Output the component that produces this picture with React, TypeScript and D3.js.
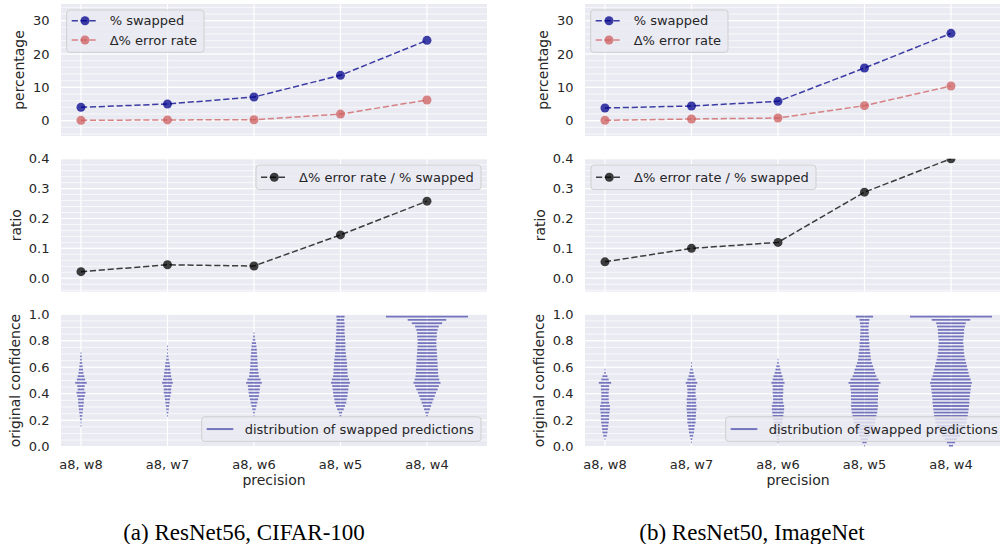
import React from 'react';
import * as d3 from 'd3';

// precision settings on the x axis
const categories = ['a8, w8', 'a8, w7', 'a8, w6', 'a8, w5', 'a8, w4'];

// (a) ResNet56, CIFAR-100
const cifarSwapped = [4.0, 5.0, 7.1, 13.6, 24.1];
const cifarErrorDelta = [0.09, 0.22, 0.29, 1.97, 6.2];
const cifarRatio = [0.022, 0.045, 0.041, 0.145, 0.258];

// (b) ResNet50, ImageNet
const imagenetSwapped = [3.8, 4.4, 5.8, 15.8, 26.2];
const imagenetErrorDelta = [0.1, 0.5, 0.8, 4.5, 10.4];
const imagenetRatio = [0.055, 0.1, 0.12, 0.288, 0.4];

const percentTicks = [0, 10, 20, 30];
const ratioTicks = [0, 0.1, 0.2, 0.3, 0.4];
const confTicks = [0, 0.2, 0.4, 0.6, 0.8, 1.0];

// histogram of original confidence of swapped predictions, 40 bins over [0, 1]
const binCount = 40;
const cifarHist = [
  [0, 0, 0, 0, 0, 0, 1, 1, 2, 3, 4, 5, 6, 7, 7, 9, 11, 8, 9, 14, 10, 8, 6, 5, 4, 3, 2, 2, 1, 0, 0, 0, 0, 0, 0, 0, 0, 0, 0, 0],
  [0, 0, 0, 0, 0, 0, 0, 0, 0, 1, 2, 3, 4, 5, 6, 7, 9, 9, 10, 13, 11, 9, 8, 7, 6, 5, 3, 2, 1, 1, 1, 0, 0, 0, 0, 0, 0, 0, 0, 0],
  [0, 0, 0, 0, 0, 0, 0, 0, 0, 1, 2, 4, 6, 8, 10, 12, 13, 14, 15, 19, 16, 12, 11, 10, 9, 9, 8, 8, 7, 7, 6, 5, 3, 2, 1, 0, 0, 0, 0, 0],
  [0, 0, 0, 0, 0, 0, 0, 0, 0, 2, 4, 8, 11, 14, 15, 17, 18, 19, 20, 23, 21, 18, 17, 17, 16, 16, 15, 14, 13, 12, 12, 12, 11, 11, 10, 10, 10, 10, 9, 10],
  [0, 0, 0, 0, 0, 0, 0, 0, 0, 2, 4, 7, 10, 13, 16, 19, 22, 26, 29, 33, 30, 28, 27, 27, 26, 26, 25, 25, 24, 24, 23, 23, 23, 24, 24, 26, 29, 37, 47, 100],
];
const imagenetHist = [
  [0, 0, 1, 4, 6, 7, 8, 9, 10, 10, 11, 12, 12, 10, 9, 9, 9, 10, 10, 15, 9, 6, 2, 1, 0, 0, 0, 0, 0, 0, 0, 0, 0, 0, 0, 0, 0, 0, 0, 0],
  [0, 1, 2, 4, 6, 7, 8, 10, 10, 11, 11, 12, 12, 11, 12, 10, 10, 10, 11, 14, 10, 7, 5, 3, 1, 1, 0, 0, 0, 0, 0, 0, 0, 0, 0, 0, 0, 0, 0, 0],
  [0, 1, 2, 4, 6, 8, 9, 10, 12, 13, 14, 15, 15, 13, 12, 12, 13, 13, 13, 16, 13, 11, 8, 6, 4, 2, 1, 0, 0, 0, 0, 0, 0, 0, 0, 0, 0, 0, 0, 0],
  [1, 5, 9, 13, 17, 21, 24, 26, 27, 29, 31, 32, 33, 32, 33, 33, 33, 34, 35, 39, 34, 29, 26, 24, 21, 18, 16, 15, 14, 13, 12, 12, 11, 11, 10, 10, 10, 11, 12, 21],
  [5, 10, 15, 22, 27, 31, 35, 38, 39, 41, 42, 43, 44, 45, 45, 46, 47, 48, 49, 51, 48, 45, 43, 41, 39, 37, 35, 33, 32, 31, 31, 30, 30, 31, 32, 32, 34, 36, 47, 100],
];

const FONT = '"DejaVu Sans", sans-serif';
const BG = '#eaeaf2';
const TEXT = '#262626';
const BLUE = '#00008b';
const RED = '#cd5c5c';
const DARK = '#000000';
const DASH = '6.2,2.7';

const AXW = 426;
const TOP = { y0: 4, y1: 136 };
const MID = { y0: 158.7, y1: 291.7 };
const BOT = { y0: 314.3, y1: 446.7 };

type Scale = d3.ScaleLinear<number, number>;

const Grid = ({ x, y, major, minor, left }: { x: Scale; y: Scale; major: number[]; minor: number[]; left: number }) => {
  const [y0, y1] = y.range();
  return (
    <g>
      <rect x={left} y={y1} width={AXW} height={y0 - y1} fill={BG} />
      {minor.map((v) => (
        <line key={'m' + v} x1={left} x2={left + AXW} y1={y(v)} y2={y(v)} stroke="#fff" strokeWidth={0.7} />
      ))}
      {major.map((v) => (
        <line key={'M' + v} x1={left} x2={left + AXW} y1={y(v)} y2={y(v)} stroke="#fff" strokeWidth={1.1} />
      ))}
      {categories.map((c, i) => (
        <line key={c} x1={x(i)} x2={x(i)} y1={y0} y2={y1} stroke="#fff" strokeWidth={1.2} />
      ))}
    </g>
  );
};

const YAxis = ({ y, ticks, fmt, left, label, labelOffset }: { y: Scale; ticks: number[]; fmt: (n: number) => string; left: number; label: string; labelOffset: number }) => {
  const [y0, y1] = y.range();
  return (
    <g fontFamily={FONT} fill={TEXT}>
      {ticks.map((t) => (
        <text key={t} x={left - 11.5} y={y(t)} dy="0.36em" textAnchor="end" fontSize={13}>
          {fmt(t)}
        </text>
      ))}
      <text transform={`translate(${left - labelOffset},${(y0 + y1) / 2}) rotate(-90)`} textAnchor="middle" fontSize={14}>
        {label}
      </text>
    </g>
  );
};

type Entry = { label: string; color: string; marker: boolean; dashed: boolean; opacity: number };

const Legend = ({ bx, by, width, entries }: { bx: number; by: number; width: number; entries: Entry[] }) => {
  const rowH = 19.3;
  const h = entries.length === 1 ? 24.5 : 42.3;
  const first = entries.length === 1 ? h / 2 : 10.7;
  return (
    <g fontFamily={FONT}>
      <rect x={bx} y={by} width={width} height={h} rx={3} fill={BG} fillOpacity={0.8} stroke="#cccccc" strokeWidth={0.9} />
      {entries.map((e, i) => {
        const cy = by + first + i * rowH;
        return (
          <g key={e.label}>
            <line x1={bx + 5} x2={bx + 31.6} y1={cy} y2={cy} stroke={e.color} strokeOpacity={e.opacity} strokeWidth={e.marker ? 1.5 : 2} strokeDasharray={e.dashed ? DASH : undefined} />
            {e.marker && <circle cx={bx + 18.3} cy={cy} r={4.5} fill={e.color} fillOpacity={e.opacity} />}
            <text x={bx + 43} y={cy} dy="0.36em" fontSize={13} fill={TEXT}>
              {e.label}
            </text>
          </g>
        );
      })}
    </g>
  );
};

type Series = { values: number[]; color: string; label: string };

const LinePanel = ({ id, left, y, series, major, minor, fmt, label, labelOffset, legend }: {
  id: string; left: number; y: Scale; series: Series[]; major: number[]; minor: number[];
  fmt: (n: number) => string; label: string; labelOffset: number; legend: { bx: number; by: number; width: number };
}) => {
  const x = d3.scaleLinear().domain([-0.231, 4.694]).range([left, left + AXW]);
  const [y0, y1] = y.range();
  const line = d3.line<number>().x((_, i) => x(i)).y((d) => y(d));
  return (
    <g>
      <clipPath id={id}>
        <rect x={left} y={y1} width={AXW} height={y0 - y1} />
      </clipPath>
      <Grid x={x} y={y} major={major} minor={minor} left={left} />
      <g clipPath={`url(#${id})`}>
        {series.map((s) => (
          <g key={s.label}>
            <path d={line(s.values) || ''} fill="none" stroke={s.color} strokeOpacity={0.75} strokeWidth={1.5} strokeDasharray={DASH} />
            {s.values.map((v, i) => (
              <circle key={i} cx={x(i)} cy={y(v)} r={4.5} fill={s.color} fillOpacity={0.75} />
            ))}
          </g>
        ))}
      </g>
      <YAxis y={y} ticks={major} fmt={fmt} left={left} label={label} labelOffset={labelOffset} />
      <Legend {...legend} entries={series.map((s) => ({ label: s.label, color: s.color, marker: true, dashed: true, opacity: 0.75 }))} />
    </g>
  );
};

const HistPanel = ({ left, hist }: { left: number; hist: number[][] }) => {
  const x = d3.scaleLinear().domain([-0.231, 4.694]).range([left, left + AXW]);
  const y = d3.scaleLinear().domain([0, 1]).range([BOT.y1, BOT.y0]);
  const half = d3.scaleLinear().domain([0, 100]).range([0, 0.474]);
  // bar sits slightly below the bin's upper edge, as in the source plot
  const centers = d3.range(binCount).map((k) => (k + 0.3) / binCount);
  const minor = d3.range(0, 1.0001, 0.05);
  return (
    <g>
      <Grid x={x} y={y} major={confTicks} minor={minor} left={left} />
      {hist.map((counts, i) =>
        counts.map((c, k) =>
          c > 0 ? (
            <line key={i + '-' + k} x1={x(i - half(c))} x2={x(i + half(c))} y1={y(centers[k])} y2={y(centers[k])} stroke={BLUE} strokeOpacity={0.5} strokeWidth={1.8} />
          ) : null
        )
      )}
      <YAxis y={y} ticks={confTicks} fmt={d3.format('.1f')} left={left} label="original confidence" labelOffset={41} />
      {categories.map((c, i) => (
        <text key={c} x={x(i)} y={468.5} textAnchor="middle" fontFamily={FONT} fontSize={13} fill={TEXT}>
          {c}
        </text>
      ))}
      <text x={left + AXW / 2} y={485} textAnchor="middle" fontFamily={FONT} fontSize={14} fill={TEXT}>
        precision
      </text>
      <Legend bx={left + AXW - 6 - 279.3} by={BOT.y1 - 5.4 - 24.5} width={279.3}
        entries={[{ label: 'distribution of swapped predictions', color: BLUE, marker: false, dashed: false, opacity: 0.5 }]} />
    </g>
  );
};

const Figure = ({ tag, left, swapped, errorDelta, ratio, hist, caption, captionX, ratioLegendRight }: {
  tag: string; left: number; swapped: number[]; errorDelta: number[]; ratio: number[]; hist: number[][];
  caption: string; captionX: number; ratioLegendRight: boolean;
}) => {
  const yTop = d3.scaleLinear().domain([-4.6, 35]).range([TOP.y1, TOP.y0]);
  const yMid = d3.scaleLinear().domain([-0.045, 0.4]).range([MID.y1, MID.y0]);
  return (
    <g>
      <LinePanel id={tag + '-top'} left={left} y={yTop}
        series={[
          { values: swapped, color: BLUE, label: '% swapped' },
          { values: errorDelta, color: RED, label: 'Δ% error rate' },
        ]}
        major={percentTicks} minor={d3.range(-4, 35, 2)} fmt={d3.format('d')}
        label="percentage" labelOffset={37.5}
        legend={{ bx: left + 5.7, by: TOP.y0 + 6, width: 137.3 }} />
      <LinePanel id={tag + '-mid'} left={left} y={yMid}
        series={[{ values: ratio, color: DARK, label: 'Δ% error rate / % swapped' }]}
        major={ratioTicks} minor={d3.range(-0.04, 0.401, 0.02)} fmt={d3.format('.1f')}
        label="ratio" labelOffset={40}
        legend={{ bx: ratioLegendRight ? left + AXW - 6 - 225 : left + 6, by: MID.y0 + 6.3, width: 225 }} />
      <HistPanel left={left} hist={hist} />
      <text x={captionX} y={540} textAnchor="middle" fontFamily='"Liberation Serif", "Times New Roman", serif' fontSize={23} fill="#000">
        {caption}
      </text>
    </g>
  );
};

export default function App() {
  return (
    <svg width={1000} height={544} viewBox="0 0 1000 544" style={{ position: 'absolute', left: 0, top: 0, background: '#fff' }}>
      <Figure tag="a" left={61} swapped={cifarSwapped} errorDelta={cifarErrorDelta} ratio={cifarRatio} hist={cifarHist}
        caption="(a) ResNet56, CIFAR-100" captionX={244} ratioLegendRight={true} />
      <Figure tag="b" left={585} swapped={imagenetSwapped} errorDelta={imagenetErrorDelta} ratio={imagenetRatio} hist={imagenetHist}
        caption="(b) ResNet50, ImageNet" captionX={752} ratioLegendRight={false} />
    </svg>
  );
}
